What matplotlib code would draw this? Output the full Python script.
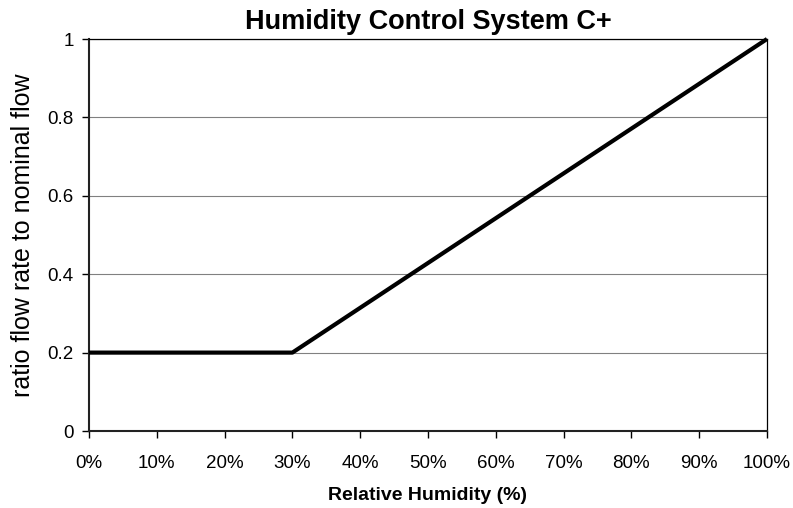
import matplotlib
matplotlib.use("Agg")
import matplotlib.pyplot as plt

plt.rcParams['font.family'] = ['Liberation Sans', 'DejaVu Sans']

humidity = [0, 30, 100]
ratio = [0.2, 0.2, 1.0]
x_ticks = [0, 10, 20, 30, 40, 50, 60, 70, 80, 90, 100]
x_labels = [f"{v}%" for v in x_ticks]
y_ticks = [0, 0.2, 0.4, 0.6, 0.8, 1.0]
y_labels = ["0", "0.2", "0.4", "0.6", "0.8", "1"]

fig = plt.figure(figsize=(7.93, 5.08), dpi=100)
ax = fig.add_axes([89/793, 1-431/508, (767-89)/793, (431-39)/508])

for y in y_ticks[1:]:
    ax.axhline(y, color='#808080', lw=0.8, zorder=1)

ax.plot(humidity, ratio, color='black', lw=3, solid_capstyle='butt', zorder=3, clip_on=False)

ax.set_xlim(0, 100)
ax.set_ylim(0, 1)
ax.set_xticks(x_ticks)
ax.set_xticklabels(x_labels, fontsize=13.5)
ax.set_yticks(y_ticks)
ax.set_yticklabels(y_labels, fontsize=13.5)
ax.tick_params(axis='both', direction='out', length=5, width=1, color='black')
ax.tick_params(axis='x', pad=12)
ax.tick_params(axis='y', pad=6)

for s in ['left', 'bottom']:
    ax.spines[s].set_linewidth(1.5)
    ax.spines[s].set_color('#222222')
for s in ['top', 'right']:
    ax.spines[s].set_linewidth(0.9)
    ax.spines[s].set_color('black')

ax.set_title("Humidity Control System C+", fontsize=19.5, fontweight='bold', pad=7)
ax.set_xlabel("Relative Humidity (%)", fontsize=14, fontweight='bold', labelpad=11)
ax.set_ylabel("ratio flow rate to nominal flow", fontsize=18, labelpad=9)

fig.savefig("out.png", dpi=100)
